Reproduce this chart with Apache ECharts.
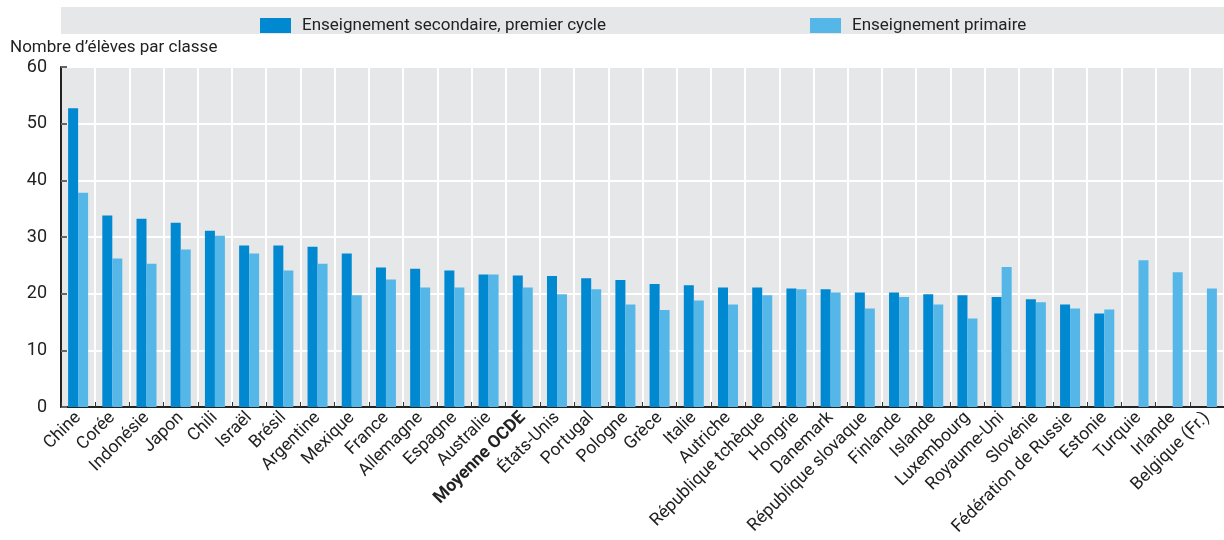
<!DOCTYPE html>
<html>
<head>
<meta charset="utf-8">
<script src="https://cdn.jsdelivr.net/npm/echarts@6/dist/echarts.min.js"></script>
<style>html,body{margin:0;padding:0;background:#fff}#c{width:1224px;height:540px}</style>
</head>
<body>
<div id="c"></div>
<script>
const categories = ['Chine','Corée','Indonésie','Japon','Chili','Israël','Brésil','Argentine','Mexique','France','Allemagne','Espagne','Australie','Moyenne OCDE','États-Unis','Portugal','Pologne','Grèce','Italie','Autriche','République tchèque','Hongrie','Danemark','République slovaque','Finlande','Islande','Luxembourg','Royaume-Uni','Slovénie','Fédération de Russie','Estonie','Turquie','Irlande','Belgique (Fr.)'];
const secondaire = [52.7,33.8,33.2,32.5,31.1,28.5,28.5,28.3,27.1,24.6,24.4,24.1,23.4,23.2,23.1,22.7,22.4,21.7,21.5,21.1,21.1,20.9,20.8,20.2,20.2,19.9,19.7,19.4,19.0,18.1,16.5,null,null,null];
const primaire = [37.8,26.2,25.3,27.8,30.2,27.1,24.1,25.3,19.7,22.5,21.1,21.1,23.4,21.1,19.9,20.8,18.1,17.1,18.8,18.1,19.7,20.8,20.2,17.4,19.4,18.1,15.6,24.7,18.5,17.4,17.2,25.9,23.8,20.9];
const yTicks = [0,10,20,30,40,50,60];
const seriesNames = ['Enseignement secondaire, premier cycle','Enseignement primaire'];

const FONT = "Roboto,'Liberation Sans',sans-serif";
const chart = echarts.init(document.getElementById('c'));
chart.setOption({
  animation: false,
  textStyle: {fontFamily: FONT},
  graphic: [
    {type:'rect', shape:{x:61, y:7, width:1163, height:27}, style:{fill:'#e6e7e9'}, z:-1},
    {type:'text', left:10, top:39, style:{text:"Nombre d’élèves par classe", font:"17px " + FONT, fill:'#222'}}
  ],
  legend: [
    {data:[seriesNames[0]], left:255, top:12, icon:'rect', itemWidth:31, itemHeight:15, itemGap:10,
     textStyle:{fontSize:17, color:'#222', fontFamily:FONT, padding:[0,0,0,6]}},
    {data:[seriesNames[1]], left:805, top:12, icon:'rect', itemWidth:31, itemHeight:15, itemGap:10,
     textStyle:{fontSize:17, color:'#222', fontFamily:FONT, padding:[0,0,0,6]}}
  ],
  grid: {left:61, right:0, top:67, bottom:133, show:true, backgroundColor:'#e6e7e9', borderWidth:0},
  xAxis: {
    type:'category', data:categories,
    axisLine:{show:true, lineStyle:{color:'#222', width:2}},
    axisTick:{show:true, inside:true, length:5, lineStyle:{color:'#333', width:1}},
    splitLine:{show:true, lineStyle:{color:'#fff', width:2}},
    axisLabel:{rotate:45, interval:0, fontSize:17.5, color:'#222', margin:8, fontFamily:FONT,
      formatter: v => v === 'Moyenne OCDE' ? '{b|' + v + '}' : v,
      rich:{b:{fontWeight:'bold', fontSize:17.5, fontFamily:FONT, color:'#222'}}}
  },
  yAxis: {
    type:'value', min:0, max:60, interval:10,
    axisLine:{show:true, lineStyle:{color:'#222', width:2}},
    axisTick:{show:true, inside:true, length:6, lineStyle:{color:'#666', width:2}},
    splitLine:{show:true, lineStyle:{color:'#fff', width:2}},
    axisLabel:{fontSize:18, color:'#222', margin:14, fontFamily:FONT}
  },
  series: [
    {name:seriesNames[0], type:'bar', data:secondaire, barWidth:10, barGap:'0%', itemStyle:{color:'#0088d0'}},
    {name:seriesNames[1], type:'bar', data:primaire, barWidth:10, barGap:'0%', itemStyle:{color:'#55b7e8'}}
  ]
});
</script>
</body>
</html>
